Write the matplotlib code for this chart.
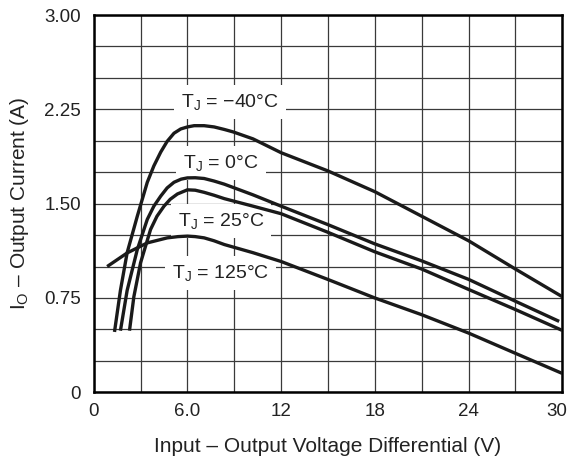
import matplotlib
matplotlib.use("Agg")
import matplotlib.pyplot as plt
import matplotlib.transforms as mtransforms

plt.rcParams['font.family'] = ['Liberation Sans', 'DejaVu Sans']
plt.rcParams['mathtext.fontset'] = 'custom'
plt.rcParams['mathtext.rm'] = 'Liberation Sans'
plt.rcParams['mathtext.it'] = 'Liberation Sans'

# Output current vs input-output differential
vin_m40 = [1.33, 1.71, 2.14, 2.79, 3.43, 3.85, 4.29, 4.7, 5.14, 5.57, 6.0, 6.43, 7.07, 7.71, 8.36, 8.94, 10.2, 11.1, 12.0, 15.0, 18.0, 21.0, 24.0, 27.0, 30.0]
io_m40 = [0.48, 0.81, 1.11, 1.40, 1.67, 1.80, 1.91, 1.995, 2.06, 2.094, 2.11, 2.12, 2.12, 2.11, 2.09, 2.07, 2.015, 1.96, 1.905, 1.76, 1.595, 1.40, 1.205, 0.98, 0.76]

vin_0 = [1.71, 2.14, 2.79, 3.43, 3.85, 4.29, 4.7, 5.14, 5.6, 6.0, 6.5, 7.07, 7.7, 8.36, 10.2, 12.0, 15.0, 18.0, 21.0, 24.0, 27.0, 29.8]
io_0 = [0.49, 0.81, 1.135, 1.375, 1.48, 1.56, 1.625, 1.67, 1.695, 1.705, 1.706, 1.70, 1.68, 1.655, 1.57, 1.48, 1.333, 1.18, 1.045, 0.898, 0.724, 0.564]

vin_25 = [2.29, 2.57, 3.0, 3.64, 4.05, 4.5, 4.9, 5.36, 6.0, 6.5, 7.07, 7.7, 8.36, 10.2, 12.0, 15.0, 18.0, 21.0, 24.0, 27.0, 30.0]
io_25 = [0.49, 0.76, 1.03, 1.295, 1.40, 1.48, 1.535, 1.577, 1.61, 1.607, 1.59, 1.567, 1.54, 1.48, 1.42, 1.272, 1.117, 0.98, 0.818, 0.658, 0.492]

vin_125 = [0.86, 2.14, 3.43, 4.71, 5.4, 6.0, 6.5, 7.07, 7.7, 8.36, 10.2, 12.0, 15.0, 18.0, 21.0, 24.0, 27.0, 30.0]
io_125 = [1.0, 1.108, 1.188, 1.228, 1.238, 1.242, 1.238, 1.228, 1.205, 1.175, 1.11, 1.04, 0.897, 0.75, 0.617, 0.471, 0.31, 0.15]

labels = ['T$_\\mathregular{J}$ = \u221240\u00b0C', 'T$_\\mathregular{J}$ = 0\u00b0C',
          'T$_\\mathregular{J}$ = 25\u00b0C', 'T$_\\mathregular{J}$ = 125\u00b0C']
label_x = [8.73, 8.16, 8.16, 8.12]
label_y = [2.31, 1.82, 1.364, 0.946]

xticks = [0, 6, 12, 18, 24, 30]
xticklabels = ['0', '6.0', '12', '18', '24', '30']
yticks = [0, 0.75, 1.5, 2.25, 3.0]
yticklabels = ['0', '0.75', '1.50', '2.25', '3.00']

fig = plt.figure(figsize=(5.69, 4.59), dpi=100)
ax = fig.add_axes([0.1647, 0.1453, 0.8235, 0.822])

for xs, ys in [(vin_m40, io_m40), (vin_0, io_0), (vin_25, io_25), (vin_125, io_125)]:
    ax.plot(xs, ys, color='#1a1a1a', lw=2.4, solid_capstyle='butt',
            solid_joinstyle='round', zorder=3)

for t, x, y in zip(labels, label_x, label_y):
    ax.text(x, y, t, ha='center', va='center', fontsize=14, color='#222222', zorder=2.5,
            bbox=dict(facecolor='white', edgecolor='none', pad=5))

ax.set_xlim(0, 30)
ax.set_ylim(0, 3)
ax.set_xticks([i * 3 for i in range(11)], minor=True)
ax.set_yticks([i * 0.25 for i in range(13)], minor=True)
ax.set_xticks(xticks)
ax.set_xticklabels(xticklabels)
ax.set_yticks(yticks)
ax.set_yticklabels(yticklabels)
ax.grid(True, which='both', color='#3a3a3a', lw=0.9)
ax.set_axisbelow(True)
ax.tick_params(which='both', length=0, labelsize=13.5, colors='#222222')
ax.tick_params(axis='x', pad=8)
ax.tick_params(axis='y', pad=9)
for s in ax.spines.values():
    s.set_linewidth(1.8)
    s.set_color('black')

# last x label sits a bit left of the axis edge, as in the original
last = ax.get_xticklabels()[-1]
last.set_transform(last.get_transform() + mtransforms.ScaledTranslation(-6 / 100, 0, fig.dpi_scale_trans))

ax.set_xlabel('Input \u2013 Output Voltage Differential (V)', fontsize=15, color='#222222', labelpad=12)
ax.set_ylabel('I$_\\mathregular{O}$ \u2013 Output Current (A)', fontsize=15, color='#222222', labelpad=10)

fig.savefig('out.png', dpi=100)
